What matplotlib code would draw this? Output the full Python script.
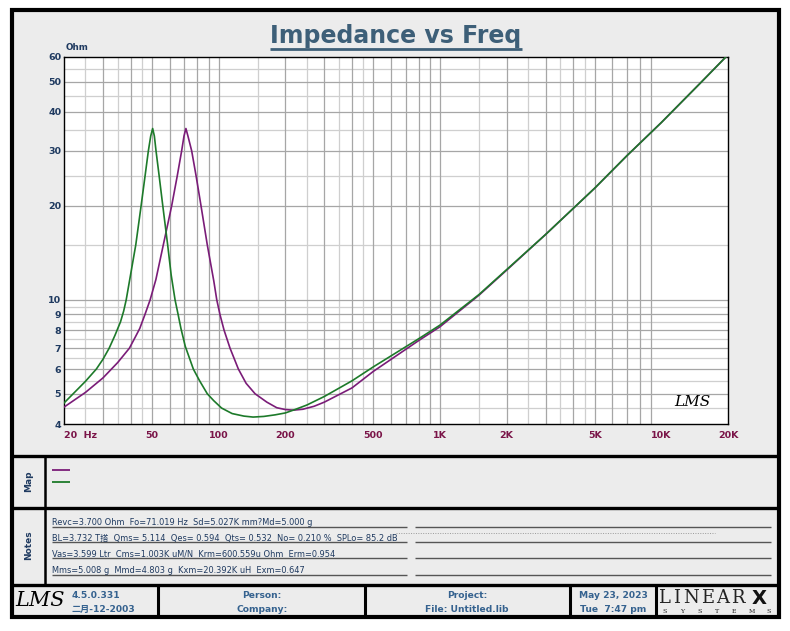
import matplotlib
matplotlib.use('Agg')
import matplotlib.pyplot as plt
from matplotlib.lines import Line2D
from matplotlib.patches import Rectangle

# ---------------- data ----------------
freq_purple = [20, 25, 30, 35, 39.5, 42, 44, 46.5, 49, 52, 56.2, 61.3, 65, 68, 69.7, 71.1,
               72.6, 75.5, 79, 83.2, 88.8, 95, 98, 101.4, 105.7, 112.5, 122.7, 133, 146,
               165, 183, 200, 217, 240, 270, 300, 400, 500, 800, 1000, 1500, 2000, 3000,
               5000, 7000, 10000, 15000, 20000]
z_purple = [4.53, 5.05, 5.62, 6.3, 7.0, 7.6, 8.1, 9.0, 10.0, 11.6, 15.0, 20.0, 25.0, 30.0, 33.5, 35.4,
            33.5, 30.0, 25.0, 20.0, 15.0, 11.5, 10.0, 8.95, 8.0, 7.0, 6.0, 5.4, 5.0,
            4.7, 4.51, 4.45, 4.43, 4.46, 4.56, 4.7, 5.22, 5.9, 7.4, 8.2, 10.35, 12.45, 16.2,
            22.8, 29.0, 37.0, 49.5, 61.0]

freq_green = [20, 22, 25, 28, 30, 32, 34, 36, 37.2, 38.2, 42.2, 44.6, 46.5, 48.1, 49.3, 50.3,
              51.2, 52.1, 53.8, 55.9, 58.8, 61, 63.5, 65.5, 67.5, 70.6, 76.8, 82, 88.8, 95, 103,
              115, 130, 143, 160, 180, 200, 221, 250, 300, 400, 500, 800, 1000, 1500, 2000,
              3000, 5000, 7000, 10000, 15000, 20000]
z_green = [4.67, 5.0, 5.48, 6.0, 6.45, 7.0, 7.7, 8.5, 9.2, 10.0, 15.0, 20.0, 25.0, 30.0, 33.5, 35.4,
           33.5, 30.0, 25.0, 20.0, 15.0, 12.0, 10.0, 9.0, 8.1, 7.1, 6.0, 5.5, 5.0, 4.75, 4.5,
           4.32, 4.24, 4.21, 4.23, 4.28, 4.34, 4.45, 4.6, 4.9, 5.5, 6.1, 7.5, 8.3, 10.4, 12.5,
           16.2, 22.8, 29.0, 37.0, 49.5, 61.0]

x_tick_values = [20, 50, 100, 200, 500, 1000, 2000, 5000, 10000, 20000]
x_tick_labels = ['20  Hz', '50', '100', '200', '500', '1K', '2K', '5K', '10K', '20K']
y_tick_values = [4, 5, 6, 7, 8, 9, 10, 20, 30, 40, 50, 60]
y_tick_labels = ['4', '5', '6', '7', '8', '9', '10', '20', '30', '40', '50', '60']

x_grid_dark = [m * 10 ** e for e in (1, 2, 3) for m in range(1, 10) if 20 < m * 10 ** e < 20000]
x_grid_light = [m * 10 ** e for e in (1, 2, 3) for m in (1.5, 2.5, 3.5, 4.5) if 20 < m * 10 ** e < 20000]
y_grid_dark = [5, 6, 7, 8, 9, 10, 20, 30, 40, 50]
y_grid_light = [4.5, 5.5, 6.5, 7.5, 8.5, 9.5, 15, 25, 35, 45, 55]

notes_lines = [
    "Revc=3.700 Ohm  Fo=71.019 Hz  Sd=5.027K mm?Md=5.000 g",
    "BL=3.732 T搭  Qms= 5.114  Qes= 0.594  Qts= 0.532  No= 0.210 %  SPLo= 85.2 dB",
    "Vas=3.599 Ltr  Cms=1.003K uM/N  Krm=600.559u Ohm  Erm=0.954",
    "Mms=5.008 g  Mmd=4.803 g  Kxm=20.392K uH  Exm=0.647",
]

# ---------------- figure ----------------
W, H = 790, 631
fig = plt.figure(figsize=(7.9, 6.31), dpi=100)
fig.patch.set_facecolor('white')
plt.rcParams['font.family'] = ['DejaVu Sans', 'Noto Sans CJK SC']

def X(px):
    return px / W

def Y(py):
    return 1 - py / H

PANEL = '#ececec'
NAVY = '#1f3a60'
MAROON = '#7a1448'
STEEL = '#35628f'
PURPLE = '#7a1c78'
GREEN = '#1d7a2a'

# panel background
fig.patches.append(Rectangle((X(12), Y(617)), X(780) - X(12), Y(10) - Y(617),
                             transform=fig.transFigure, facecolor=PANEL, edgecolor='none', zorder=-10))

def fline(xs, ys, lw=2.2, color='black', ls='-', z=5):
    fig.add_artist(Line2D([X(v) for v in xs], [Y(v) for v in ys], lw=lw, color=color,
                          ls=ls, transform=fig.transFigure, zorder=z, solid_capstyle='butt'))

# outer frame
fig.patches.append(Rectangle((X(12), Y(617)), X(779) - X(12), Y(10) - Y(617),
                             transform=fig.transFigure, facecolor='none', edgecolor='black',
                             lw=3.0, zorder=6))
# horizontal separators
fline([12, 779], [456, 456], lw=2.4)
fline([12, 779], [507.5, 507.5], lw=2.4)
fline([12, 779], [585, 585], lw=2.4)
# vertical separator in Map/Notes
fline([45, 45], [456, 585], lw=1.8)
# footer separators
for xv in (158, 365, 570, 656):
    fline([xv, xv], [585, 617], lw=2.2)

# ---------------- title ----------------
fig.text(X(396), Y(43), 'Impedance vs Freq', ha='center', va='baseline', fontsize=17,
         fontweight='heavy', color='#3d5f78')
fline([270, 522], [48.5, 48.5], lw=2.0, color='#3d5f78')

# ---------------- axes ----------------
ax = fig.add_axes([X(64), Y(424), X(728) - X(64), Y(57) - Y(424)])
ax.set_zorder(2)
ax.set_facecolor('white')
ax.set_xscale('log')
ax.set_yscale('log')
ax.set_xlim(20, 20000)
ax.set_ylim(4, 60)

for xv in x_grid_light:
    ax.axvline(xv, color='#cfcfcf', lw=0.9, zorder=1)
for yv in y_grid_light:
    ax.axhline(yv, color='#cfcfcf', lw=0.9, zorder=1)
for xv in x_grid_dark:
    ax.axvline(xv, color='#a6a6a6', lw=0.9, zorder=1)
for yv in y_grid_dark:
    ax.axhline(yv, color='#a6a6a6', lw=0.9, zorder=1)

ax.plot(freq_purple, z_purple, color=PURPLE, lw=1.2, zorder=3)
ax.plot(freq_green, z_green, color=GREEN, lw=1.2, zorder=4)

ax.minorticks_off()
ax.set_xticks(x_tick_values)
ax.set_xticklabels(x_tick_labels)
ax.set_yticks(y_tick_values)
ax.set_yticklabels(y_tick_labels)
ax.tick_params(axis='both', length=0)
ax.tick_params(axis='x', pad=5, labelsize=6.8, labelcolor=MAROON)
ax.tick_params(axis='y', pad=2, labelsize=6.8, labelcolor=NAVY)
for lab in ax.get_xticklabels() + ax.get_yticklabels():
    lab.set_fontweight('bold')
first = ax.get_xticklabels()[0]
first.set_horizontalalignment('left')
for s in ax.spines.values():
    s.set_color('black')
    s.set_linewidth(1.0)

fig.text(X(66), Y(48), 'Ohm', ha='left', va='center', fontsize=6.3, fontweight='bold', color=NAVY)
ax.text(0.947, 0.04, 'LMS', transform=ax.transAxes, ha='center', va='bottom', fontsize=11,
        fontstyle='italic', family='DejaVu Serif', color='black')

# ---------------- Map ----------------
fig.text(X(29), Y(481), 'Map', rotation=90, ha='center', va='center', fontsize=6.5,
         fontweight='bold', color=NAVY)
fline([52, 70], [470.3, 470.3], lw=1.3, color=PURPLE)
fline([52, 70], [481.7, 481.7], lw=1.3, color=GREEN)

# ---------------- Notes ----------------
fig.text(X(29), Y(545), 'Notes', rotation=90, ha='center', va='center', fontsize=6.5,
         fontweight='bold', color=NAVY)
base_y = [525.2, 540.8, 556.6, 573.0]
for txt, by in zip(notes_lines, base_y):
    fig.text(X(52), Y(by), txt, ha='left', va='baseline', fontsize=5.95, color=NAVY)
    fline([52, 407], [by + 1.6, by + 1.6], lw=1.0, color='#555555')
    fline([415, 771], [by + 1.6, by + 1.6], lw=1.0, color='#555555')
fline([396, 715], [533, 533], lw=0.7, color='#9a9a9a', ls=(0, (1, 1.5)))

# ---------------- footer ----------------
fig.text(X(40), Y(601), 'LMS', ha='center', va='center', fontsize=15, fontstyle='italic',
         family='DejaVu Serif', color='black')
fig.text(X(72), Y(595), '4.5.0.331', ha='left', va='center', fontsize=6.6, fontweight='bold', color=STEEL)
fig.text(X(72), Y(609), '二月-12-2003', ha='left', va='center', fontsize=6.6, fontweight='bold',
         color=STEEL, family=['DejaVu Sans', 'Noto Sans CJK SC'])
fig.text(X(262), Y(595.5), 'Person:', ha='center', va='center', fontsize=6.6, fontweight='bold', color=STEEL)
fig.text(X(262), Y(609), 'Company:', ha='center', va='center', fontsize=6.6, fontweight='bold', color=STEEL)
fig.text(X(467), Y(595.5), 'Project:', ha='center', va='center', fontsize=6.6, fontweight='bold', color=STEEL)
fig.text(X(467), Y(609), 'File: Untitled.lib', ha='center', va='center', fontsize=6.6, fontweight='bold', color=STEEL)
fig.text(X(613), Y(595.5), 'May 23, 2023', ha='center', va='center', fontsize=6.6, fontweight='bold', color=STEEL)
fig.text(X(613), Y(609), 'Tue  7:47 pm', ha='center', va='center', fontsize=6.6, fontweight='bold', color=STEEL)

logo_top = 'LINEAR'
logo_x = [664, 677, 691, 708, 723, 738]
for ch, xv in zip(logo_top, logo_x):
    fig.text(X(xv), Y(598), ch, ha='center', va='center', fontsize=13, family='DejaVu Serif',
             fontweight='light', color='#222222')
fig.text(X(759), Y(598), 'X', ha='center', va='center', fontsize=14, fontweight='bold',
         family='DejaVu Sans', color='#111111')
for i, ch in enumerate('SYSTEMS'):
    fig.text(X(665 + i * 17.3), Y(611.5), ch, ha='center', va='center', fontsize=4.5,
             family='DejaVu Serif', color='#222222')

fig.savefig('out.png', dpi=100)
